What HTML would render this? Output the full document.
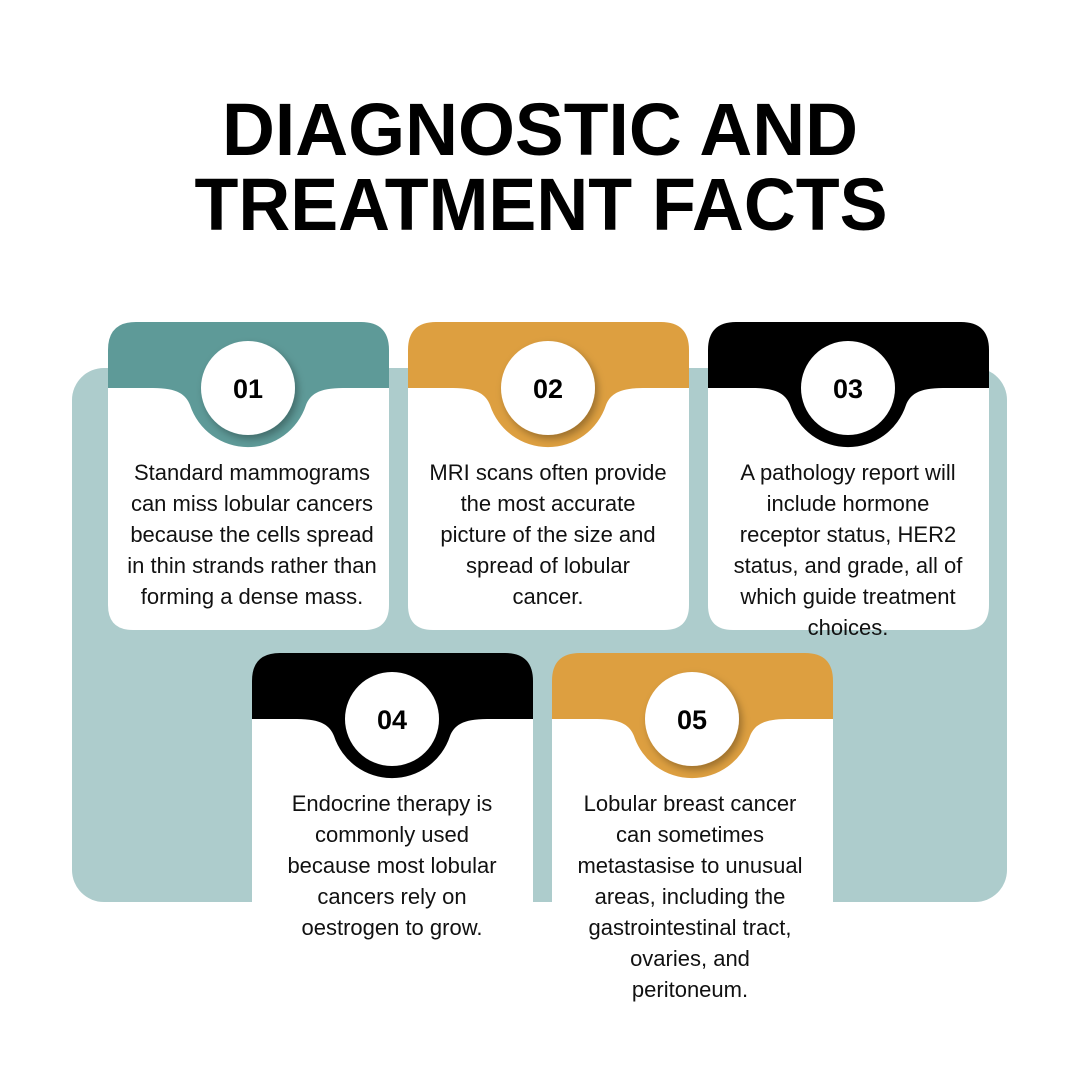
<!DOCTYPE html>
<html><head><style>html,body{margin:0;padding:0;background:#fff}svg{display:block}</style></head><body>
<svg width="1080" height="1080" viewBox="0 0 1080 1080" xmlns="http://www.w3.org/2000/svg">
<defs><filter id="sh" x="-30%" y="-30%" width="160%" height="160%"><feDropShadow dx="3" dy="4" stdDeviation="4" flood-color="#000" flood-opacity="0.3"/></filter></defs>
<rect width="1080" height="1080" fill="#fff"/>
<text x="540" y="155" text-anchor="middle" font-family="Liberation Sans, sans-serif" font-weight="bold" font-size="74" textLength="636" lengthAdjust="spacingAndGlyphs">DIAGNOSTIC AND</text>
<text x="541" y="230" text-anchor="middle" font-family="Liberation Sans, sans-serif" font-weight="bold" font-size="74" textLength="693" lengthAdjust="spacingAndGlyphs">TREATMENT FACTS</text>
<rect x="72" y="368" width="935" height="534" rx="32" fill="#adcccc"/>
<path d="M108,388 H389 V605 Q389,630 364,630 H133 Q108,630 108,605 Z" fill="#fff"/>
<path d="M108,350 Q108,322 136,322 H361 Q389,322 389,350 V388 H343 C318,388 310,395 306,405 A61,61 0 0 1 190,405 C186,395 178,388 153,388 H108 Z" fill="#5e9a98"/>
<circle cx="248" cy="388" r="47" fill="#fff" filter="url(#sh)"/>
<text x="248" y="398" text-anchor="middle" font-family="Liberation Sans, sans-serif" font-weight="bold" font-size="27">01</text>
<path d="M408,388 H689 V605 Q689,630 664,630 H433 Q408,630 408,605 Z" fill="#fff"/>
<path d="M408,350 Q408,322 436,322 H661 Q689,322 689,350 V388 H643 C618,388 610,395 606,405 A61,61 0 0 1 490,405 C486,395 478,388 453,388 H408 Z" fill="#dd9f40"/>
<circle cx="548" cy="388" r="47" fill="#fff" filter="url(#sh)"/>
<text x="548" y="398" text-anchor="middle" font-family="Liberation Sans, sans-serif" font-weight="bold" font-size="27">02</text>
<path d="M708,388 H989 V605 Q989,630 964,630 H733 Q708,630 708,605 Z" fill="#fff"/>
<path d="M708,350 Q708,322 736,322 H961 Q989,322 989,350 V388 H943 C918,388 910,395 906,405 A61,61 0 0 1 790,405 C786,395 778,388 753,388 H708 Z" fill="#000"/>
<circle cx="848" cy="388" r="47" fill="#fff" filter="url(#sh)"/>
<text x="848" y="398" text-anchor="middle" font-family="Liberation Sans, sans-serif" font-weight="bold" font-size="27">03</text>
<rect x="252" y="700" width="281" height="380" fill="#fff"/>
<path d="M252,681 Q252,653 280,653 H505 Q533,653 533,681 V719 H487 C462,719 454,726 450,736 A61,61 0 0 1 334,736 C330,726 322,719 297,719 H252 Z" fill="#000"/>
<circle cx="392" cy="719" r="47" fill="#fff" filter="url(#sh)"/>
<text x="392" y="729" text-anchor="middle" font-family="Liberation Sans, sans-serif" font-weight="bold" font-size="27">04</text>
<rect x="552" y="700" width="281" height="380" fill="#fff"/>
<path d="M552,681 Q552,653 580,653 H805 Q833,653 833,681 V719 H787 C762,719 754,726 750,736 A61,61 0 0 1 634,736 C630,726 622,719 597,719 H552 Z" fill="#dd9f40"/>
<circle cx="692" cy="719" r="47" fill="#fff" filter="url(#sh)"/>
<text x="692" y="729" text-anchor="middle" font-family="Liberation Sans, sans-serif" font-weight="bold" font-size="27">05</text>
<g font-family="Liberation Sans, sans-serif" font-size="22" fill="#111" text-anchor="middle">
<text x="252" y="480">Standard mammograms</text>
<text x="252" y="511">can miss lobular cancers</text>
<text x="252" y="542">because the cells spread</text>
<text x="252" y="573">in thin strands rather than</text>
<text x="252" y="604">forming a dense mass.</text>
<text x="548" y="480">MRI scans often provide</text>
<text x="548" y="511">the most accurate</text>
<text x="548" y="542">picture of the size and</text>
<text x="548" y="573">spread of lobular</text>
<text x="548" y="604">cancer.</text>
<text x="848" y="480">A pathology report will</text>
<text x="848" y="511">include hormone</text>
<text x="848" y="542">receptor status, HER2</text>
<text x="848" y="573">status, and grade, all of</text>
<text x="848" y="604">which guide treatment</text>
<text x="848" y="635">choices.</text>
<text x="392" y="811">Endocrine therapy is</text>
<text x="392" y="842">commonly used</text>
<text x="392" y="873">because most lobular</text>
<text x="392" y="904">cancers rely on</text>
<text x="392" y="935">oestrogen to grow.</text>
<text x="690" y="811">Lobular breast cancer</text>
<text x="690" y="842">can sometimes</text>
<text x="690" y="873">metastasise to unusual</text>
<text x="690" y="904">areas, including the</text>
<text x="690" y="935">gastrointestinal tract,</text>
<text x="690" y="966">ovaries, and</text>
<text x="690" y="997">peritoneum.</text>
</g>
</svg>
</body></html>
